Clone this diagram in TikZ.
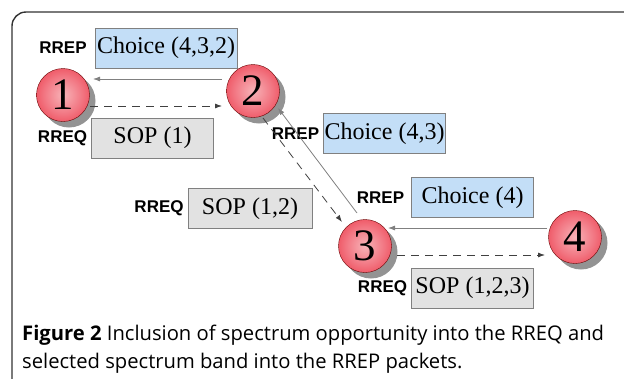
\documentclass[tikz,border=0pt]{standalone}
\usepackage{fontspec}
\setmainfont{Liberation Serif}
\newfontfamily\tagfont{Liberation Sans}
\newfontfamily\capfont{Open Sans}
\usepackage{tikz}
\usetikzlibrary{shadows}
\usetikzlibrary{arrows.meta}
\usetikzlibrary{shapes,arrows,positioning}

\definecolor{boxblue}{HTML}{C3DEF7}
\definecolor{boxgray}{HTML}{E2E2E2}
\definecolor{rimgray}{HTML}{808080}
\definecolor{ballcore}{HTML}{F7B3B8}
\definecolor{ballmid}{HTML}{F27682}
\definecolor{ballred}{HTML}{EC3444}
\definecolor{ballrim}{HTML}{E42636}
\pgfdeclareradialshading{nodeball}{\pgfpoint{0bp}{0bp}}{%
  color(0bp)=(ballcore); color(18bp)=(ballmid);
  color(36bp)=(ballred); color(50bp)=(ballrim)}

\tikzset{
  hop/.style={circle, draw=black!60!red, thin, shading=nodeball, inner sep=0pt,
    minimum size=53pt, font=\fontsize{45}{45}\selectfont,
    drop shadow={shadow xshift=6pt, shadow yshift=-6pt, fill=black!50, opacity=0.85}},
  choicebox/.style={draw=rimgray, fill=boxblue, inner sep=0pt, minimum width=122pt,
    minimum height=40pt, font=\fontsize{24}{24}\selectfont},
  sopbox/.style={draw=rimgray, fill=boxgray, inner sep=0pt, minimum width=122pt,
    minimum height=40pt, font=\fontsize{24}{24}\selectfont},
  tag/.style={inner sep=0pt, font=\tagfont\bfseries\fontsize{17}{17}\selectfont},
  reply/.style={draw=black!50, line width=0.8pt, -{Latex[length=7pt,width=5pt]}},
  request/.style={draw=black!75, line width=0.8pt, dash pattern=on 8pt off 6pt,
    -{Latex[length=7pt,width=5pt]}},
}

\begin{document}
\begin{tikzpicture}[x=1pt, y=-1pt]
  \useasboundingbox (0,0) rectangle (624,378);
  \clip (0,0) rectangle (624,378);

  % the frame
  \draw[black!80, line width=1.4pt, rounded corners=14pt] (12,12) rectangle (700,460);

  % the hops
  \node[hop] (n1) at (63,95) {1};
  \node[hop] (n2) at (253,91) {2};
  \node[hop] (n3) at (365,246) {3};
  \node[hop] (n4) at (575,237) {4};

  % the packet boxes
  \node[choicebox, minimum width=142pt] (c432) at (166,48) {Choice (4,3,2)};
  \node[sopbox] (s1) at (152.5,138) {SOP (1)};
  \node[choicebox] (c43) at (384.5,133.5) {Choice (4,3)};
  \node[sopbox, minimum width=124pt] (s12) at (250,208.5) {SOP (1,2)};
  \node[choicebox] (c4) at (472.5,197.5) {Choice (4)};
  \node[sopbox] (s123) at (472.5,288) {SOP (1,2,3)};

  \node[tag, left=8pt of c432] (t1) {RREP};
  \node[tag, left=4pt of s1] (t2) {RREQ};
  \node[tag, left=4pt of c43] (t3) {RREP};
  \node[tag, left=4pt of s12] (t4) {RREQ};
  \node[tag, left=7pt of c4] (t5) {RREP};
  \node[tag, left=4pt of s123] (t6) {RREQ};

  % the arrows
  \draw[reply] ([shift={(-31,-12)}]n2.center) -- ([shift={(30,-16)}]n1.center);
  \draw[request] ([shift={(27,11)}]n1.center) -- ([shift={(-31,15)}]n2.center);
  \draw[reply] ([shift={(-8,-33)}]n3.center) -- ([shift={(25,17)}]n2.center);
  \draw[request] ([shift={(10,27)}]n2.center) -- ([shift={(-23,-24)}]n3.center);
  \draw[reply] ([shift={(-28,-9)}]n4.center) -- ([shift={(23,-18)}]n3.center);
  \draw[request] ([shift={(32,9)}]n3.center) -- ([shift={(-30,18)}]n4.center);

  % the caption
  \node[anchor=north west, align=left, inner sep=0pt,
    font=\capfont\fontsize{20.2}{27.5}\selectfont] (cap) at (22,325)
    {\textbf{Figure 2} Inclusion of spectrum opportunity into the RREQ and\\
     selected spectrum band into the RREP packets.};
\end{tikzpicture}
\end{document}
